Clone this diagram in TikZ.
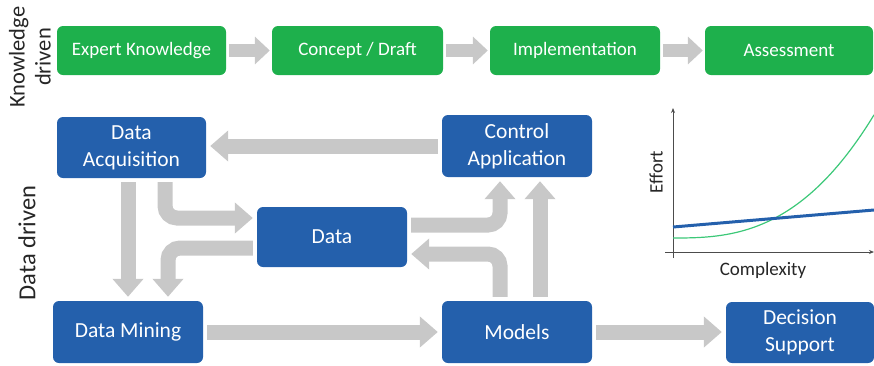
\documentclass[tikz,border=0pt]{standalone}
\usepackage{fontspec}
\setmainfont{Carlito}
\usepackage{tikz}
\usetikzlibrary{arrows.meta,calc}
\definecolor{boxgreen}{RGB}{30,176,76}
\definecolor{boxblue}{RGB}{36,96,172}
\definecolor{arrowgray}{RGB}{200,200,200}
\definecolor{curvegreen}{RGB}{60,200,120}
\tikzstyle{greenB}=[rectangle, rounded corners=6pt, fill=boxgreen, text=white, inner sep=0pt, minimum height=49pt, font=\fontsize{19}{22}\selectfont]
\tikzstyle{blueB}=[rectangle, rounded corners=6pt, fill=boxblue, text=white, inner sep=0pt, align=center, font=\fontsize{21.5}{27}\selectfont]
\tikzstyle{fat}=[draw=arrowgray, line width=15pt, -{Triangle[length=18pt,width=30pt]}, shorten <=4pt, shorten >=4pt, rounded corners=12pt]
\tikzstyle{fatS}=[draw=arrowgray, line width=13pt, -{Triangle[length=15pt,width=27pt]}, shorten <=3pt, shorten >=2pt]
\tikzstyle{axis}=[draw=black!70, line width=0.8pt, -{Stealth[length=5pt,width=4pt]}]

\begin{document}
\begin{tikzpicture}[x=1pt, y=-1pt]
    \useasboundingbox (0,0) rectangle (874,365);

    %%%%%  Knowledge driven  %%%%%
    \node (KD) [rotate=90, align=center, font=\fontsize{22.5}{26}\selectfont, text=black!85] at (30,57) {Knowledge\\driven};
    \node (ek)   [greenB, minimum width=169pt] at (141.5,50.5) {Expert Knowledge};
    \node (cd)   [greenB, minimum width=171pt] at (357.5,50.5) {Concept / Draft};
    \node (impl) [greenB, minimum width=170pt] at (575,50.5) {Implementation};
    \node (ass)  [greenB, minimum width=168pt] at (789,50.5) {Assessment};

    \draw [fatS] (ek) to (cd);
    \draw [fatS] (cd) to (impl);
    \draw [fatS] (impl) to (ass);

    %%%%%  Data driven  %%%%%
    \node (DD) [rotate=90, font=\fontsize{24.5}{28}\selectfont, text=black!85] at (27,243) {Data driven};
    \node (acq)    [blueB, minimum width=149pt, minimum height=61pt] at (131.5,147.5) {Data\\Acquisition};
    \node (ctrl)   [blueB, minimum width=150pt, minimum height=62pt] at (517,146) {Control\\Application};
    \node (data)   [blueB, minimum width=150pt, minimum height=60pt] at (332,237) {Data};
    \node (mine)   [blueB, minimum width=150pt, minimum height=62pt] at (128,332) {Data Mining};
    \node (models) [blueB, minimum width=150pt, minimum height=62pt] at (517,332) {Models};
    \node (dec)    [blueB, minimum width=148pt, minimum height=61pt] at (800,332.5) {Decision\\Support};

    \draw [fat] (ctrl.west) -- (ctrl.west -| acq.east);
    \draw [fat] (acq.south -| mine.north) -- (mine.north);
    \draw [fat] ([xshift=33.5pt]acq.south) |- ([yshift=19pt]data.west);
    \draw [fat] ([yshift=-11pt]data.west) -| ([xshift=40pt]mine.north);
    \draw [fat] ([yshift=12pt]data.east) -| ([xshift=-17pt]ctrl.south);
    \draw [fat] ([xshift=-17pt]models.north) |- ([yshift=-17pt]data.east);
    \draw [fat] ([xshift=23pt]models.north) -- ([xshift=23pt]ctrl.south);
    \draw [fat] (mine.east) -- (models.west);
    \draw [fat] (models.east) -- (dec.west |- models.east);

    %%%%%  Effort / complexity  %%%%%
    \coordinate (o) at (673,252);
    \coordinate (xend) at (874,252);
    \coordinate (yend) at (673,108);
    \draw [axis] ($(o)+(-8,0)$) -- (xend);
    \draw [axis] ($(o)+(0,6)$) -- (yend);
    \draw [curvegreen, line width=1.2pt] plot[domain=0:201, samples=60, smooth] ({673+\x},{238-20*(\x/102)^2.68});
    \draw [boxblue, line width=3pt] (673,227) -- (874,210);
    \node (eff)  [rotate=90, font=\fontsize{19}{22}\selectfont, text=black!85] at (656,172) {Effort};
    \node (cplx) [font=\fontsize{19}{22}\selectfont, text=black!85] at (763,270) {Complexity};
\end{tikzpicture}
\end{document}
